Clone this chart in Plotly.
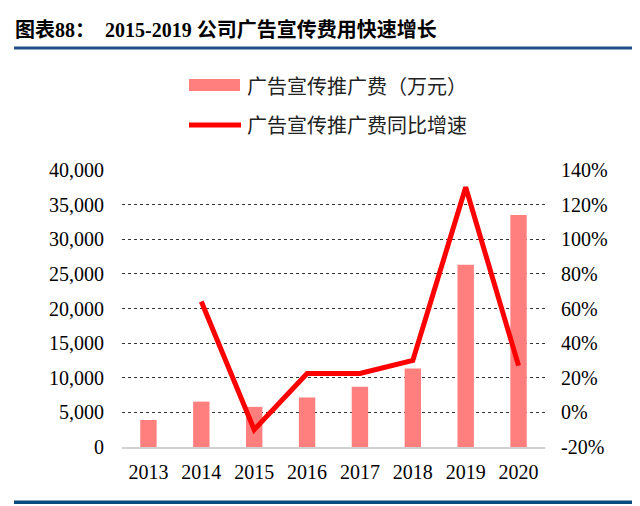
import plotly.graph_objects as go

years = ["2013", "2014", "2015", "2016", "2017", "2018", "2019", "2020"]
spend = [3900, 6550, 5800, 7150, 8700, 11350, 26300, 33500]
growth_years = ["2014", "2015", "2016", "2017", "2018", "2019", "2020"]
growth = [64, -10, 22.5, 22.5, 30, 130, 27]

left_ticks = [0, 5000, 10000, 15000, 20000, 25000, 30000, 35000, 40000]
left_labels = ["0", "5,000", "10,000", "15,000", "20,000", "25,000", "30,000", "35,000", "40,000"]
right_ticks = [-20, 0, 20, 40, 60, 80, 100, 120, 140]
right_labels = ["-20%", "0%", "20%", "40%", "60%", "80%", "100%", "120%", "140%"]

title_text = "图表88：  2015-2019 公司广告宣传费用快速增长"
legend_bar = "广告宣传推广费（万元）"
legend_line = "广告宣传推广费同比增速"

serif = "Liberation Serif, Times New Roman, Noto Sans CJK SC, serif"
cjk = "Noto Sans CJK SC, sans-serif"

# the page body offsets the figure by 8px; window coordinates -> figure coordinates
OFF = 8
W, H = 640 - OFF, 506 - OFF
L, R, T, B = 122 - OFF, 95, 170 - OFF, 59
PW, PH = W - L - R, H - T - B


def px_x(x):
    return (x - OFF - L) / PW


def px_y(y):
    return (H - B - (y - OFF)) / PH


fig = go.Figure()
fig.add_trace(go.Bar(x=years, y=spend, name=legend_bar, marker=dict(color="#FF7F7F", line=dict(width=0)),
                     width=0.31, showlegend=False, yaxis="y"))
fig.add_trace(go.Scatter(x=growth_years, y=growth, name=legend_line, mode="lines",
                         line=dict(color="#FF0000", width=5), showlegend=False, yaxis="y2"))

fig.update_layout(
    width=W, height=H,
    margin=dict(l=L, r=R, t=T, b=B),
    paper_bgcolor="white", plot_bgcolor="white",
    font=dict(family=serif, size=20, color="#000000"),
    xaxis=dict(type="category", categoryorder="array", categoryarray=years,
               showgrid=False, showline=True, linecolor="#D0D0D0", linewidth=2,
               ticks="", tickfont=dict(family=serif, size=20), range=[-0.5, 7.5],
               ticklabelstandoff=6),
    yaxis=dict(range=[0, 40000], tickvals=left_ticks, ticktext=left_labels,
               showgrid=True, gridcolor="#333333", griddash="dot", gridwidth=1,
               zeroline=False, showline=False, ticks="", ticklabelstandoff=17,
               tickfont=dict(family=serif, size=20)),
    yaxis2=dict(range=[-20, 140], tickvals=right_ticks, ticktext=right_labels,
                overlaying="y", side="right", showgrid=False, zeroline=False,
                showline=False, ticks="", ticklabelstandoff=15,
                tickfont=dict(family=serif, size=20)),
)

# title
fig.add_annotation(xref="paper", yref="paper", x=px_x(13), y=px_y(30), xanchor="left", yanchor="middle",
                   text="<b>" + title_text + "</b>", showarrow=False,
                   font=dict(family=serif, size=20, color="#000000"))

# title underline and bottom rule
fig.add_shape(type="rect", xref="paper", yref="paper", x0=px_x(14), x1=px_x(640), y0=px_y(49.5), y1=px_y(46.5),
              fillcolor="#1F4E89", line=dict(width=0))
fig.add_shape(type="rect", xref="paper", yref="paper", x0=px_x(14), x1=px_x(640), y0=px_y(504), y1=px_y(500.5),
              fillcolor="#0B4A7D", line=dict(width=0))

# legend
fig.add_shape(type="rect", xref="paper", yref="paper", x0=px_x(189), x1=px_x(240), y0=px_y(91), y1=px_y(79),
              fillcolor="#FF7F7F", line=dict(width=0))
fig.add_shape(type="line", xref="paper", yref="paper", x0=px_x(189), x1=px_x(241), y0=px_y(125), y1=px_y(125),
              line=dict(color="#FF0000", width=5))
fig.add_annotation(xref="paper", yref="paper", x=px_x(245), y=px_y(85), xanchor="left", yanchor="middle",
                   text=legend_bar, showarrow=False, font=dict(family=cjk, size=20, color="#222222"))
fig.add_annotation(xref="paper", yref="paper", x=px_x(245), y=px_y(125), xanchor="left", yanchor="middle",
                   text=legend_line, showarrow=False, font=dict(family=cjk, size=20, color="#222222"))

fig.write_html("out.html")
